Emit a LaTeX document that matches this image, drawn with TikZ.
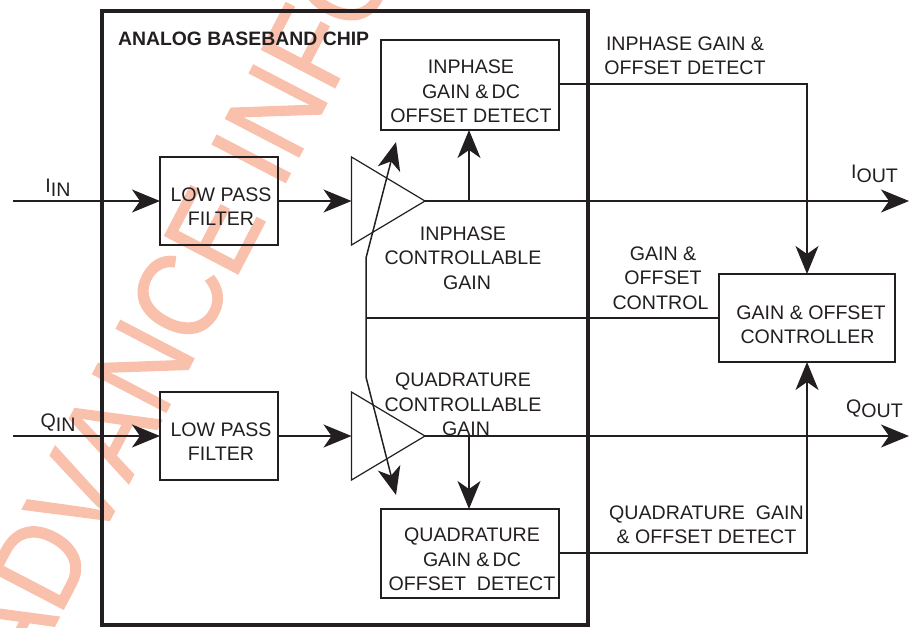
\documentclass[tikz,border=0pt]{standalone}
\usepackage{fontspec}
\setmainfont{Liberation Sans}
\newfontfamily\wmfont[Kerning=Off,FakeBold=1.2]{Liberation Sans}
\usetikzlibrary{arrows.meta}
\definecolor{ink}{HTML}{231F20}
\definecolor{wm}{HTML}{F9C0AC}
\tikzset{
  x=1pt,y=-1pt,
  txt/.style={inner sep=0pt,outer sep=0pt,align=center,text=ink,font=\fontsize{19.6}{24.3}\selectfont},
  boxn/.style={draw=ink,line width=1.6pt,inner sep=0pt,outer sep=0pt},
  wire/.style={draw=ink,line width=1.5pt},
  arr/.style={wire,-{Stealth[length=28pt,width=23pt,inset=8pt]}},
  tri/.style={draw=ink,line width=1.2pt,fill=none,line join=miter},
}
\begin{document}
\begin{tikzpicture}
\useasboundingbox (0,0) rectangle (909,627);
\begin{scope}
\clip (0,0) rectangle (909,627);
\node[anchor=base west,rotate=62.5,inner sep=0pt,text=wm] (watermark) at (26,681)
  {\scalebox{0.9}[1]{\wmfont\fontsize{120}{120}\selectfont ADVANCE INFORMATION}};
\end{scope}

% chip frame
\node[draw=ink,line width=4pt,inner sep=0pt,outer sep=0pt,minimum width=486pt,minimum height=614pt] (chip) at (345,318) {};
\node[txt,anchor=base west,font=\bfseries\fontsize{19.4}{23}\selectfont] (chiplabel) at (118,45) {ANALOG BASEBAND CHIP};

% boxes
\node[boxn,minimum width=118pt,minimum height=88pt] (lpfa) at (219,201) {};
\node[boxn,minimum width=118pt,minimum height=88pt] (lpfb) at (219,436) {};
\node[boxn,minimum width=178pt,minimum height=90pt] (idet) at (470,85) {};
\node[boxn,minimum width=178pt,minimum height=89pt] (qdet) at (470,553.5) {};
\node[boxn,minimum width=176pt,minimum height=88pt] (ctrl) at (807,318) {};

% box texts
\node[txt] (lpfatxt) at (221,207) {LOW PASS\\FILTER};
\node[txt] (lpfbtxt) at (221,441.5) {LOW PASS\\FILTER};
\node[txt] (idettxt) at (471,91.5) {INPHASE\\GAIN \&\,DC\\OFFSET DETECT};
\node[txt] (qdettxt) at (472,559.5) {QUADRATURE\\GAIN \&\,DC\\OFFSET\ \ DETECT};
\node[txt] (ctrltxt) at (811,324.5) {GAIN \& OFFSET\\\hspace*{-7pt}CONTROLLER};

% amplifiers
\coordinate (atop) at (351.5,157);
\coordinate (abot) at (351.5,245);
\coordinate (aout) at (425,201);
\coordinate (ain) at (351.5,201);
\coordinate (btop) at (351.5,392);
\coordinate (bbot) at (351.5,480);
\coordinate (bout) at (425,436);
\coordinate (bin) at (351.5,436);
\draw[tri] (atop) -- (aout) -- (abot) -- cycle;
\draw[tri] (btop) -- (bout) -- (bbot) -- cycle;

% free ends and junctions
\coordinate (iin) at (13,201);
\coordinate (qin) at (13,436);
\coordinate (iend) at (909,201);
\coordinate (qend) at (909,436);
\coordinate (itap) at (469,201);
\coordinate (qtap) at (469,436);
\coordinate (gjunc) at (366,318);
\coordinate (gupper) at (366,258);
\coordinate (glower) at (366,377);
\coordinate (gtipa) at (396,142);
\coordinate (gtipb) at (396,495);

% signal path
\draw[arr] (iin) -- (lpfa.west);
\draw[arr] (qin) -- (lpfb.west);
\draw[arr] (lpfa.east) -- (ain);
\draw[arr] (lpfb.east) -- (bin);
\draw[arr] (aout) -- (iend);
\draw[arr] (bout) -- (qend);
\draw[arr] (itap) -- (itap |- idet.south);
\draw[arr] (qtap) -- (qtap |- qdet.north);
\draw[arr] (idet.east |- 0,84) -- (807,84) -- (ctrl.north);
\draw[arr] (qdet.east |- 0,553) -- (807,553) -- (ctrl.south);
\draw[wire] (ctrl.west) -- (gjunc);
\draw[arr] (gjunc) -- (gupper) -- (gtipa);
\draw[arr] (gjunc) -- (glower) -- (gtipb);

% labels
\node[txt] (iinlbl) at (58,187.5) {I\raisebox{-4pt}{IN}};
\node[txt] (qinlbl) at (58,422.5) {Q\raisebox{-4pt}{IN}};
\node[txt] (ioutlbl) at (874.5,173.5) {I\raisebox{-4pt}{OUT}};
\node[txt] (qoutlbl) at (874.5,408.5) {Q\raisebox{-4pt}{OUT}};
\node[txt] (idetlbl) at (685,55.5) {INPHASE GAIN \&\\OFFSET DETECT};
\node[txt] (qdetlbl) at (706.5,524.5) {QUADRATURE\ \ GAIN\\\& OFFSET DETECT};
\node[txt] (gainlbl) at (663,278) {GAIN \&\\OFFSET\\\hspace*{-5pt}CONTROL};
\node[txt] (igain) at (463,258) {INPHASE\\CONTROLLABLE\\\hspace*{8pt}GAIN};
\node[txt] (qgain) at (463,404.5) {QUADRATURE\\CONTROLLABLE\\\hspace*{6pt}GAIN};
\end{tikzpicture}
\end{document}
